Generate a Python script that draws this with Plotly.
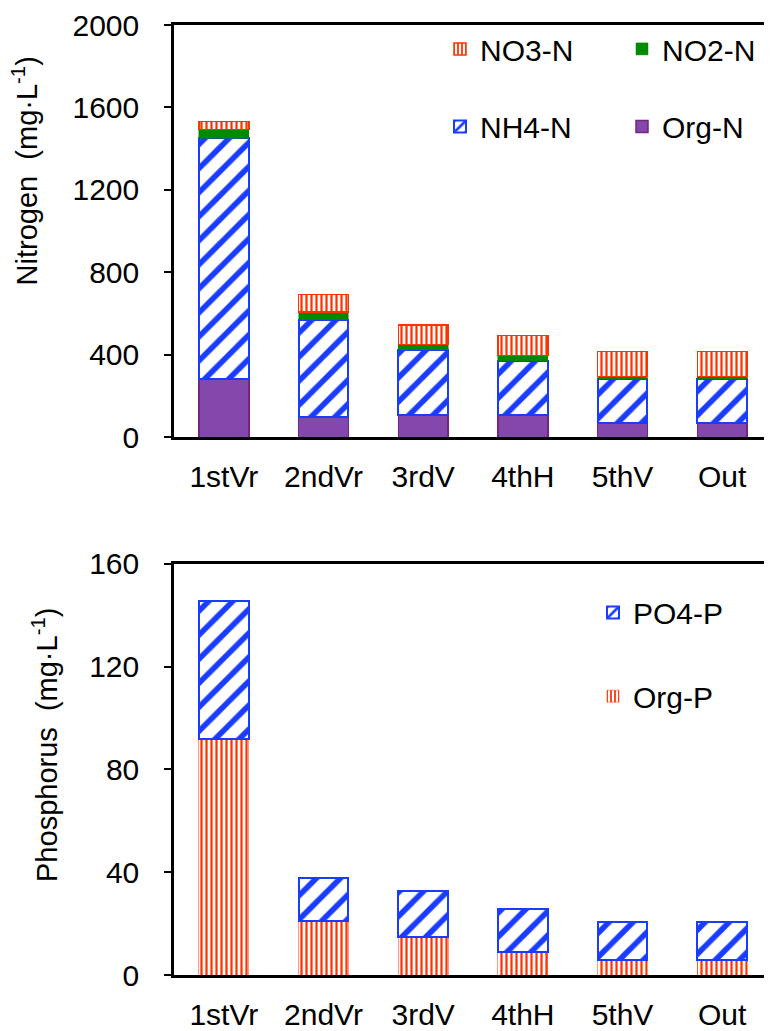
import plotly.graph_objects as go

categories = ["1stVr", "2ndVr", "3rdV", "4thH", "5thV", "Out"]

# Nitrogen (mg/L)
org_n = [285, 97, 110, 110, 71, 71]
nh4_n = [1165, 474, 314, 262, 214, 214]
no2_n = [43, 37, 25, 24, 11, 11]
no3_n = [40, 84, 95, 98, 121, 121]

# Phosphorus (mg/L)
org_p = [92, 20.9, 14.9, 8.8, 5.8, 5.8]
po4_p = [53.5, 16.7, 17.8, 16.8, 14.9, 14.9]

n_ticks = [0, 400, 800, 1200, 1600, 2000]
p_ticks = [0, 40, 80, 120, 160]

RED = "#FF3300"
BLUE = "#1A3CFF"
GREEN = "#008A00"
PURPLE = "#8447AB"
PURPLE_EDGE = "#74267E"
FONT = "Arial, Liberation Sans, sans-serif"

OFF = 8  # page body margin
W, H = 772 - OFF, 1031 - OFF
L, R, T, B = 174 - OFF, 0, 21 - OFF, 56
PW = W - L - R
PH = H - T - B


def px_x(x):
    return (x - OFF - L) / PW


def px_y(y):
    return (H + OFF - B - y) / PH


fig = go.Figure()

stripes_v = dict(shape="|", size=5, solidity=0.45, fillmode="overlay", fgopacity=1)
stripes_d = dict(shape="/", size=17, solidity=0.33, fillmode="overlay", fgopacity=1)

fig.add_trace(go.Bar(
    x=categories, y=org_n, name="Org-N", xaxis="x", yaxis="y",
    marker=dict(color=PURPLE, line=dict(color=PURPLE_EDGE, width=1.5)),
    legend="legend4", width=0.5))
fig.add_trace(go.Bar(
    x=categories, y=nh4_n, name="NH4-N", xaxis="x", yaxis="y",
    marker=dict(color="white", line=dict(color=BLUE, width=2),
                pattern=dict(fgcolor=BLUE, bgcolor="white", **stripes_d)),
    legend="legend3", width=0.5))
fig.add_trace(go.Bar(
    x=categories, y=no2_n, name="NO2-N", xaxis="x", yaxis="y",
    marker=dict(color=GREEN, line=dict(color=GREEN, width=0.5)),
    legend="legend2", width=0.5))
fig.add_trace(go.Bar(
    x=categories, y=no3_n, name="NO3-N", xaxis="x", yaxis="y",
    marker=dict(color="white", line=dict(color=RED, width=1.5),
                pattern=dict(fgcolor=RED, bgcolor="white", **stripes_v)),
    legend="legend", showlegend=True, width=0.5))

fig.add_trace(go.Bar(
    x=categories, y=org_p, name="Org-P", xaxis="x2", yaxis="y2",
    marker=dict(color="white", line=dict(color=RED, width=0.5),
                pattern=dict(fgcolor=RED, bgcolor="white", **stripes_v)),
    legend="legend6", width=0.5))
fig.add_trace(go.Bar(
    x=categories, y=po4_p, name="PO4-P", xaxis="x2", yaxis="y2",
    marker=dict(color="white", line=dict(color=BLUE, width=2),
                pattern=dict(fgcolor=BLUE, bgcolor="white", **stripes_d)),
    legend="legend5", width=0.5))

top_dom = [px_y(435), 1.0]
bot_dom = [0.0, px_y(562)]

axis_common = dict(showline=True, linecolor="black", linewidth=2.5,
                   showgrid=False, zeroline=False,
                   tickfont=dict(family=FONT, size=30, color="black"))

fig.update_layout(
    width=W, height=H,
    margin=dict(l=L, r=R, t=T, b=B),
    paper_bgcolor="white", plot_bgcolor="white",
    barmode="stack", bargap=0.5, showlegend=True,
    font=dict(family=FONT, size=30, color="black"),
    xaxis=dict(domain=[0, 1], anchor="y", type="category", range=[-0.5, 5.5],
               mirror=True, ticks="", ticklabelstandoff=11, **axis_common),
    yaxis=dict(domain=top_dom, anchor="x", range=[0, 2000], tickvals=n_ticks,
               ticks="outside", ticklen=7, tickwidth=2, tickcolor="black",
               ticklabelstandoff=19, **axis_common),
    xaxis2=dict(domain=[0, 1], anchor="y2", type="category", range=[-0.5, 5.5],
                mirror=True, ticks="", ticklabelstandoff=11, **axis_common),
    yaxis2=dict(domain=bot_dom, anchor="x2", range=[0, 160], tickvals=p_ticks,
                ticks="outside", ticklen=7, tickwidth=2, tickcolor="black",
                ticklabelstandoff=19, **axis_common),
)

leg_font = dict(family=FONT, size=30, color="black")
leg_common = dict(xref="paper", yref="paper", xanchor="left", yanchor="middle",
                  bgcolor="rgba(0,0,0,0)", borderwidth=0, font=leg_font,
                  itemwidth=30, visible=True)
fig.update_layout(
    legend=dict(x=px_x(440), y=px_y(45), **leg_common),
    legend2=dict(x=px_x(622), y=px_y(45), **leg_common),
    legend3=dict(x=px_x(440), y=px_y(123), **leg_common),
    legend4=dict(x=px_x(622), y=px_y(123), **leg_common),
    legend5=dict(x=px_x(593), y=px_y(611), **leg_common),
    legend6=dict(x=px_x(593), y=px_y(695), **leg_common),
)

fig.add_annotation(text="Nitrogen  (mg·L<sup>-1</sup>)", textangle=-90,
                   xref="paper", yref="paper", x=px_x(25), y=px_y(168),
                   xanchor="center", yanchor="middle", showarrow=False,
                   font=dict(family=FONT, size=29, color="black"))
fig.add_annotation(text="Phosphorus  (mg·L<sup>-1</sup>)", textangle=-90,
                   xref="paper", yref="paper", x=px_x(45), y=px_y(744),
                   xanchor="center", yanchor="middle", showarrow=False,
                   font=dict(family=FONT, size=29, color="black"))

fig.write_html("out.html")
